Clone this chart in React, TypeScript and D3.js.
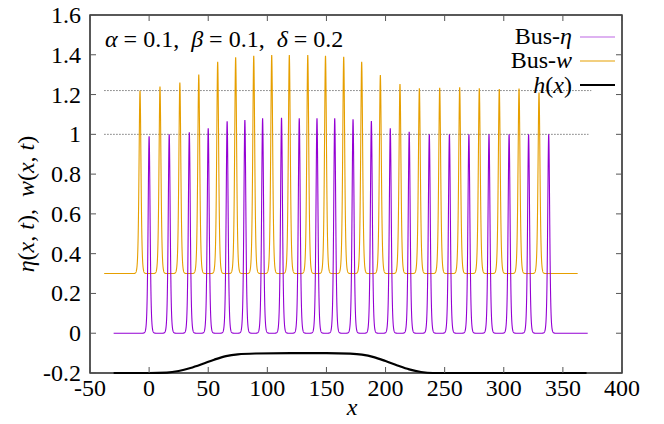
import React from "react";
import * as d3 from "d3";

// peak centres (x) and tops
const etaCenters = [0, 17, 34, 50, 66, 81, 96, 112, 127, 142, 157, 172.5, 188, 204, 220, 237, 254, 270.5, 287.5, 304.5, 321, 338];
const etaTops = [0.99, 1.0, 1.01, 1.03, 1.065, 1.072, 1.08, 1.083, 1.08, 1.08, 1.08, 1.075, 1.067, 1.03, 1.013, 1.0, 1.0, 1.0, 1.0, 1.0, 1.0, 1.0];
const wCenters = [-7.7, 9.2, 26, 42, 58, 73.2, 88.5, 103.7, 118.6, 134.2, 149.2, 164.6, 179.8, 195.6, 212.2, 228.6, 245.8, 262.7, 279.3, 296.2, 312.9, 329.8];
const wTops = [1.22, 1.24, 1.26, 1.3, 1.365, 1.387, 1.395, 1.398, 1.398, 1.398, 1.395, 1.39, 1.365, 1.298, 1.253, 1.231, 1.234, 1.236, 1.231, 1.228, 1.23, 1.21];
const etaBase = 0;
const wBase = 0.3;
const etaRange = [-30, 371];
const wRange = [-38, 362.5];

// bottom topography h(x)
const hX = [-30, 0, 15, 25, 35, 45, 55, 65, 75, 90, 120, 150, 170, 180, 190, 200, 210, 220, 230, 240, 370];
const hY = [-0.2, -0.2, -0.198, -0.19, -0.175, -0.155, -0.133, -0.115, -0.106, -0.102, -0.1, -0.1, -0.103, -0.108, -0.12, -0.14, -0.162, -0.182, -0.195, -0.2, -0.2];

const xTicks = [-50, 0, 50, 100, 150, 200, 250, 300, 350, 400];
const yTicks = [-0.2, 0, 0.2, 0.4, 0.6, 0.8, 1, 1.2, 1.4, 1.6];
const refLevels = [1, 1.22];

const W = 664, H = 424;
const left = 90, right = 622, top = 15, bottom = 373;
const font = "Liberation Serif";
const purple = "#9400d3";
const orange = "#e69f00";

function profile(centers: number[], tops: number[], base: number, range: number[]) {
  const pts: [number, number][] = [];
  const w = 1.1;
  for (let x = range[0]; x <= range[1] + 1e-9; x += 0.05) {
    let y = base;
    centers.forEach((c, i) => {
      const s = 1 / Math.cosh((x - c) / w);
      y += (tops[i] - base) * s * s;
    });
    pts.push([x, y]);
  }
  return pts;
}

export default function App() {
  const x = d3.scaleLinear().domain([-50, 400]).range([left, right]);
  const y = d3.scaleLinear().domain([-0.2, 1.6]).range([bottom, top]);
  const line = d3.line<[number, number]>().x(d => x(d[0])).y(d => y(d[1]));
  const hLine = d3.line<number>().x(d => x(d)).y((d, i) => y(hY[i])).curve(d3.curveMonotoneX);

  const eta = profile(etaCenters, etaTops, etaBase, etaRange);
  const w = profile(wCenters, wTops, wBase, wRange);

  const fmt = (v: number) => (Math.abs(v) < 1e-9 ? "0" : String(+v.toFixed(1)));
  const ts = { fontFamily: font, whiteSpace: "pre" as const };

  return (
    <svg width={W} height={H} style={{ position: "absolute", left: 0, top: 0, background: "#fff" }}>
      {refLevels.map(v => (
        <line key={v} x1={x(-38)} x2={x(v === 1 ? 371.6 : 374)} y1={y(v)} y2={y(v)} stroke="#777" strokeWidth={1} strokeDasharray="1.5,1.5" />
      ))}
      <path d={line(w) || ""} fill="none" stroke={orange} strokeWidth={1.1} />
      <path d={line(eta) || ""} fill="none" stroke={purple} strokeWidth={1.1} />
      <path d={hLine(hX) || ""} fill="none" stroke="#000" strokeWidth={2.2} />

      {/* frame */}
      <rect x={left} y={top} width={right - left} height={bottom - top} fill="none" stroke="#000" strokeWidth={1.3} />
      {xTicks.map(t => (
        <g key={"x" + t}>
          <line x1={x(t)} x2={x(t)} y1={bottom} y2={bottom - 6} stroke="#555" />
          <line x1={x(t)} x2={x(t)} y1={top} y2={top + 6} stroke="#555" />
          <text x={x(t)} y={396} textAnchor="middle" fontSize={24} style={ts}>{fmt(t)}</text>
        </g>
      ))}
      {yTicks.map(t => (
        <g key={"y" + t}>
          <line x1={left} x2={left + 6} y1={y(t)} y2={y(t)} stroke="#555" />
          <line x1={right} x2={right - 6} y1={y(t)} y2={y(t)} stroke="#555" />
          <text x={81} y={y(t) + 8} textAnchor="end" fontSize={24} style={ts}>{fmt(t)}</text>
        </g>
      ))}

      <text x={352} y={415} fontSize={24} fontStyle="italic" textAnchor="middle" style={ts}>x</text>
      <text transform={`translate(34,204) rotate(-90)`} fontSize={24} textAnchor="middle" style={ts}>
        <tspan fontStyle="italic">η</tspan>(<tspan fontStyle="italic">x</tspan>, <tspan fontStyle="italic">t</tspan>),  <tspan fontStyle="italic">w</tspan>(<tspan fontStyle="italic">x</tspan>, <tspan fontStyle="italic">t</tspan>)
      </text>

      <text x={105} y={47} fontSize={24} style={ts}>
        <tspan fontStyle="italic">α</tspan> = 0.1,  <tspan fontStyle="italic">β</tspan> = 0.1,  <tspan fontStyle="italic">δ</tspan> = 0.2
      </text>

      {/* legend */}
      <text x={572} y={44} fontSize={24} textAnchor="end" style={ts}>Bus-<tspan fontStyle="italic">η</tspan></text>
      <line x1={580} x2={615} y1={37} y2={37} stroke={purple} strokeOpacity={0.6} strokeWidth={1.2} />
      <text x={572} y={68} fontSize={24} textAnchor="end" style={ts}>Bus-<tspan fontStyle="italic">w</tspan></text>
      <line x1={580} x2={615} y1={61} y2={61} stroke={orange} strokeWidth={1.2} />
      <text x={572} y={93} fontSize={24} textAnchor="end" style={ts}><tspan fontStyle="italic">h</tspan>(<tspan fontStyle="italic">x</tspan>)</text>
      <line x1={580} x2={615} y1={85} y2={85} stroke="#000" strokeWidth={2} />
    </svg>
  );
}
